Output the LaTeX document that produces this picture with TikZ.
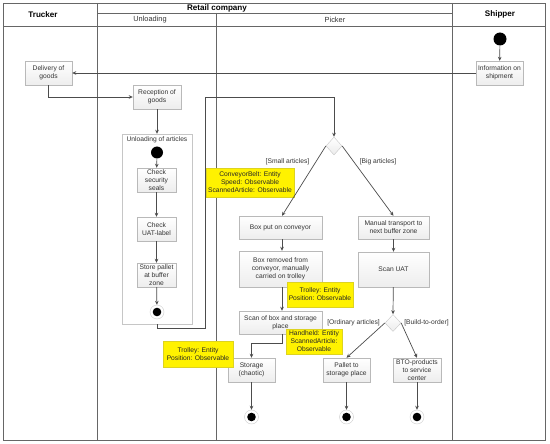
\documentclass[tikz,border=0pt]{standalone}
\usepackage{fontspec}
\setmainfont{Liberation Sans}
\usetikzlibrary{arrows.meta,shapes.geometric,calc,shadows}
\begin{document}
\begin{tikzpicture}[x=1pt,y=-1pt,
  bodyfont/.style={font=\fontsize{6.7}{8}\selectfont},
  act/.style={rectangle,draw=gray!55,top color=white,bottom color=gray!14,
    bodyfont,text=black!80,align=center,inner sep=0pt,
    drop shadow={opacity=0.18,shadow xshift=0.8pt,shadow yshift=-0.8pt}},
  note/.style={rectangle,fill=yellow,draw=yellow!85!black,line width=0.3pt,
    bodyfont,text=black!85,align=center,inner sep=0pt},
  startnode/.style={circle,fill=black,minimum size=13pt,inner sep=0pt},
  endnode/.style={circle,draw=gray!40,fill=white,minimum size=14pt,inner sep=0pt,
    path picture={\fill[black] (path picture bounding box.center) circle (4.3pt);}},
  decis/.style={diamond,draw=gray!45,top color=white,bottom color=gray!15,
    minimum width=16pt,minimum height=18pt,inner sep=0pt},
  flow/.style={draw=black!70,line width=0.7pt,-{Stealth[length=4pt,width=3.6pt]}},
  guard/.style={bodyfont,text=black!80,inner sep=0pt},
  lane/.style={draw=black!60,line width=0.8pt},
  head/.style={font=\fontsize{8.1}{9}\selectfont\bfseries,inner sep=0pt},
  subhead/.style={font=\fontsize{7.4}{8}\selectfont,text=black!80,inner sep=0pt}]
\useasboundingbox (0,0) rectangle (550,444);
% swimlanes
\draw[lane] (3,3) rectangle (545,440);
\draw[lane] (3,26) -- (545,26);
\draw[lane] (97,13) -- (452,13);
\draw[lane] (97,3) -- (97,440);
\draw[lane] (452,3) -- (452,440);
\draw[lane] (216,13) -- (216,440);
\node[head] (hT) at (43,14.5) {Trucker};
\node[head] (hR) at (217,8) {Retail company};
\node[head] (hS) at (500,14.5) {Shipper};
\node[subhead] (hU) at (150,20) {Unloading};
\node[subhead] (hP) at (335,20) {Picker};
% container
\node[rectangle,draw=gray!45,fill=white,minimum width=70pt,minimum height=190pt,inner sep=0pt] (cont) at (157,229) {};
\node[guard] (contl) at (157,139.5) {Unloading of articles};
% nodes
\node[act,minimum width=47pt,minimum height=24pt] (deliv) at (48.5,73) {Delivery of\\goods};
\node[act,minimum width=48pt,minimum height=24pt] (recep) at (157,97) {Reception of\\goods};
\node[act,minimum width=47pt,minimum height=24pt] (info) at (499.5,73) {Information on\\shipment};
\node[startnode] (start1) at (500,39) {};
\node[startnode,minimum size=12pt] (start2) at (157,152.5) {};
\node[act,minimum width=39pt,minimum height=24pt] (seals) at (156.5,180) {Check\\security\\seals};
\node[act,minimum width=39pt,minimum height=24pt] (uat) at (156.5,229) {Check\\UAT-label};
\node[act,minimum width=39pt,minimum height=24pt] (store) at (156.5,275) {Store pallet\\at buffer\\zone};
\node[endnode] (end1) at (157,312) {};
\node[decis] (dia1) at (334,146) {};
\node[act,minimum width=83pt,minimum height=23pt] (conv) at (280.5,227.5) {Box put on conveyor};
\node[act,minimum width=83pt,minimum height=36pt] (removed) at (280.5,269) {Box removed from\\conveyor, manually\\carried on trolley};
\node[act,minimum width=83pt,minimum height=23pt] (scanbox) at (280.5,322.5) {Scan of box and storage\\place};
\node[act,minimum width=47pt,minimum height=24pt] (storage) at (251.5,370) {Storage\\(chaotic)};
\node[act,minimum width=71pt,minimum height=23pt] (manual) at (393.5,227.5) {Manual transport to\\next buffer zone};
\node[act,minimum width=71pt,minimum height=35pt] (scanuat) at (393.5,269.5) {Scan UAT};
\node[decis,minimum height=17pt] (dia2) at (393,323) {};
\node[act,minimum width=47pt,minimum height=24pt] (pallet) at (346.5,370) {Pallet to\\storage place};
\node[act,minimum width=48pt,minimum height=24pt] (bto) at (417,370) {BTO-products\\to service\\center};
\node[endnode] (end2) at (251.5,417) {};
\node[endnode] (end3) at (346.5,417) {};
\node[endnode] (end4) at (417,417) {};
% notes
\node[note,minimum width=88pt,minimum height=29pt] (n1) at (250,182.5) {ConveyorBelt: Entity\\Speed: Observable\\ScannedArticle: Observable};
\node[note,minimum width=66pt,minimum height=25pt] (n2) at (320,294.5) {Trolley: Entity\\Position: Observable};
\node[note,minimum width=56pt,minimum height=25pt] (n3) at (314,341.5) {Handheld: Entity\\ScannedArticle:\\Observable};
\node[note,minimum width=70pt,minimum height=26pt] (n4) at (198,354) {Trolley: Entity\\Position: Observable};
% guards
\node[guard] (g1) at (287.5,162) {[Small articles]};
\node[guard] (g2) at (378,162) {[Big articles]};
\node[guard] (g3) at (353.5,323) {[Ordinary articles]};
\node[guard] (g4) at (426.5,323) {[Build-to-order]};
% flows
\coordinate (jt) at (205,97);
\draw[flow] (start1) -- (info);
\draw[flow] (info.west) -- (deliv.east);
\draw[flow] (deliv.south) |- (recep.west);
\draw[flow] (recep.south) -- (cont.north);
\draw[flow] (start2) -- (seals);
\draw[flow] (seals) -- (uat);
\draw[flow] (uat) -- (store);
\draw[flow] (store) -- (end1);
\draw[flow] (cont.south) -- ++(0,4) -| (jt) -| (dia1.north);
\draw[flow] (dia1.west) -- ($(conv.north)+(1.5,0)$);
\draw[flow] (dia1.east) -- (manual.north);
\draw[flow] ($(conv.south)+(1.5,0)$) -- ($(removed.north)+(1.5,0)$);
\draw[flow] ($(removed.south)+(1.5,0)$) -- ($(scanbox.north)+(1.5,0)$);
\draw[flow] ($(scanbox.south)+(1.5,0)$) -- ++(0,9) -| (storage.north);
\draw[flow] (storage) -- (end2);
\draw[flow] (manual) -- (scanuat);
\draw[flow] (scanuat) -- (dia2.north);
\draw[flow] (dia2.west) -- (pallet.north);
\draw[flow] (dia2.east) -- (bto.north);
\draw[flow] (pallet) -- (end3);
\draw[flow] (bto) -- (end4);
\end{tikzpicture}
\end{document}
